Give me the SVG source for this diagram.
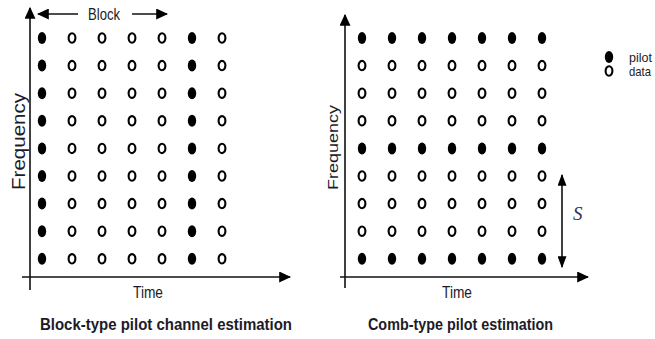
<svg xmlns="http://www.w3.org/2000/svg" width="655" height="339" viewBox="0 0 655 339">
<style>
.t{font-family:"Liberation Sans",Arial,sans-serif;fill:#1c1c28}
.b{font-weight:bold}
.ax{stroke:#111;stroke-width:1.6;fill:none}
.p{fill:#000}
.d{fill:#fff;stroke:#000;stroke-width:2.1}
</style>
<defs>
<marker id="ah" viewBox="0 0 10 10" refX="9" refY="5" markerWidth="12" markerHeight="11" markerUnits="userSpaceOnUse" orient="auto" preserveAspectRatio="none"><path d="M0,0 L10,5 L0,10 z" fill="#000"/></marker>
<marker id="ahs" viewBox="0 0 10 10" refX="9" refY="5" markerWidth="12" markerHeight="9" markerUnits="userSpaceOnUse" orient="auto" preserveAspectRatio="none"><path d="M0,0 L10,5 L0,10 z" fill="#000"/></marker>
<ellipse id="pd" rx="4.2" ry="6" class="p"/>
<ellipse id="dd" rx="3.4" ry="4.7" class="d"/>
</defs>
<g id="connectors">
<line class="ax" x1="30" y1="290" x2="30" y2="8" marker-end="url(#ah)"/>
<line class="ax" x1="22" y1="277" x2="290" y2="277" marker-end="url(#ah)"/>
<line class="ax" x1="78" y1="14" x2="38" y2="14" marker-end="url(#ah)"/>
<line class="ax" x1="132" y1="14" x2="167" y2="14" marker-end="url(#ah)"/>
<line class="ax" x1="345" y1="288" x2="345" y2="15" marker-end="url(#ah)"/>
<line class="ax" x1="340" y1="277" x2="588" y2="277" marker-end="url(#ah)"/>
<line class="ax" x1="562" y1="220" x2="562" y2="175" marker-end="url(#ahs)"/>
<line class="ax" x1="562" y1="220" x2="562" y2="267" marker-end="url(#ahs)"/>
</g>
<g id="block-grid">
<g id="block-col0"><use href="#pd" x="42" y="38"/><use href="#pd" x="42" y="65.6"/><use href="#pd" x="42" y="93.2"/><use href="#pd" x="42" y="120.8"/><use href="#pd" x="42" y="148.4"/><use href="#pd" x="42" y="176"/><use href="#pd" x="42" y="203.6"/><use href="#pd" x="42" y="231.2"/><use href="#pd" x="42" y="258.8"/></g>
<g id="block-col1"><use href="#dd" x="72" y="38"/><use href="#dd" x="72" y="65.6"/><use href="#dd" x="72" y="93.2"/><use href="#dd" x="72" y="120.8"/><use href="#dd" x="72" y="148.4"/><use href="#dd" x="72" y="176"/><use href="#dd" x="72" y="203.6"/><use href="#dd" x="72" y="231.2"/><use href="#dd" x="72" y="258.8"/></g>
<g id="block-col2"><use href="#dd" x="102" y="38"/><use href="#dd" x="102" y="65.6"/><use href="#dd" x="102" y="93.2"/><use href="#dd" x="102" y="120.8"/><use href="#dd" x="102" y="148.4"/><use href="#dd" x="102" y="176"/><use href="#dd" x="102" y="203.6"/><use href="#dd" x="102" y="231.2"/><use href="#dd" x="102" y="258.8"/></g>
<g id="block-col3"><use href="#dd" x="132" y="38"/><use href="#dd" x="132" y="65.6"/><use href="#dd" x="132" y="93.2"/><use href="#dd" x="132" y="120.8"/><use href="#dd" x="132" y="148.4"/><use href="#dd" x="132" y="176"/><use href="#dd" x="132" y="203.6"/><use href="#dd" x="132" y="231.2"/><use href="#dd" x="132" y="258.8"/></g>
<g id="block-col4"><use href="#dd" x="162" y="38"/><use href="#dd" x="162" y="65.6"/><use href="#dd" x="162" y="93.2"/><use href="#dd" x="162" y="120.8"/><use href="#dd" x="162" y="148.4"/><use href="#dd" x="162" y="176"/><use href="#dd" x="162" y="203.6"/><use href="#dd" x="162" y="231.2"/><use href="#dd" x="162" y="258.8"/></g>
<g id="block-col5"><use href="#pd" x="192" y="38"/><use href="#pd" x="192" y="65.6"/><use href="#pd" x="192" y="93.2"/><use href="#pd" x="192" y="120.8"/><use href="#pd" x="192" y="148.4"/><use href="#pd" x="192" y="176"/><use href="#pd" x="192" y="203.6"/><use href="#pd" x="192" y="231.2"/><use href="#pd" x="192" y="258.8"/></g>
<g id="block-col6"><use href="#dd" x="222" y="38"/><use href="#dd" x="222" y="65.6"/><use href="#dd" x="222" y="93.2"/><use href="#dd" x="222" y="120.8"/><use href="#dd" x="222" y="148.4"/><use href="#dd" x="222" y="176"/><use href="#dd" x="222" y="203.6"/><use href="#dd" x="222" y="231.2"/><use href="#dd" x="222" y="258.8"/></g>
</g>
<g id="comb-grid">
<g id="comb-row0"><use href="#pd" x="362" y="38"/><use href="#pd" x="392" y="38"/><use href="#pd" x="422" y="38"/><use href="#pd" x="452" y="38"/><use href="#pd" x="482" y="38"/><use href="#pd" x="512" y="38"/><use href="#pd" x="542" y="38"/></g>
<g id="comb-row1"><use href="#dd" x="362" y="65.6"/><use href="#dd" x="392" y="65.6"/><use href="#dd" x="422" y="65.6"/><use href="#dd" x="452" y="65.6"/><use href="#dd" x="482" y="65.6"/><use href="#dd" x="512" y="65.6"/><use href="#dd" x="542" y="65.6"/></g>
<g id="comb-row2"><use href="#dd" x="362" y="93.2"/><use href="#dd" x="392" y="93.2"/><use href="#dd" x="422" y="93.2"/><use href="#dd" x="452" y="93.2"/><use href="#dd" x="482" y="93.2"/><use href="#dd" x="512" y="93.2"/><use href="#dd" x="542" y="93.2"/></g>
<g id="comb-row3"><use href="#dd" x="362" y="120.8"/><use href="#dd" x="392" y="120.8"/><use href="#dd" x="422" y="120.8"/><use href="#dd" x="452" y="120.8"/><use href="#dd" x="482" y="120.8"/><use href="#dd" x="512" y="120.8"/><use href="#dd" x="542" y="120.8"/></g>
<g id="comb-row4"><use href="#pd" x="362" y="148.4"/><use href="#pd" x="392" y="148.4"/><use href="#pd" x="422" y="148.4"/><use href="#pd" x="452" y="148.4"/><use href="#pd" x="482" y="148.4"/><use href="#pd" x="512" y="148.4"/><use href="#pd" x="542" y="148.4"/></g>
<g id="comb-row5"><use href="#dd" x="362" y="176"/><use href="#dd" x="392" y="176"/><use href="#dd" x="422" y="176"/><use href="#dd" x="452" y="176"/><use href="#dd" x="482" y="176"/><use href="#dd" x="512" y="176"/><use href="#dd" x="542" y="176"/></g>
<g id="comb-row6"><use href="#dd" x="362" y="203.6"/><use href="#dd" x="392" y="203.6"/><use href="#dd" x="422" y="203.6"/><use href="#dd" x="452" y="203.6"/><use href="#dd" x="482" y="203.6"/><use href="#dd" x="512" y="203.6"/><use href="#dd" x="542" y="203.6"/></g>
<g id="comb-row7"><use href="#dd" x="362" y="231.2"/><use href="#dd" x="392" y="231.2"/><use href="#dd" x="422" y="231.2"/><use href="#dd" x="452" y="231.2"/><use href="#dd" x="482" y="231.2"/><use href="#dd" x="512" y="231.2"/><use href="#dd" x="542" y="231.2"/></g>
<g id="comb-row8"><use href="#pd" x="362" y="258.8"/><use href="#pd" x="392" y="258.8"/><use href="#pd" x="422" y="258.8"/><use href="#pd" x="452" y="258.8"/><use href="#pd" x="482" y="258.8"/><use href="#pd" x="512" y="258.8"/><use href="#pd" x="542" y="258.8"/></g>
</g>
<g id="legend">
<use href="#pd" x="609" y="57"/>
<text class="t" x="629" y="62" font-size="13" textLength="23" lengthAdjust="spacingAndGlyphs">pilot</text>
<use href="#dd" x="609" y="71"/>
<text class="t" x="629" y="76" font-size="13" textLength="22" lengthAdjust="spacingAndGlyphs">data</text>
</g>
<g id="labels">
<text class="t" x="88" y="20" font-size="17" textLength="32" lengthAdjust="spacingAndGlyphs">Block</text>
<text class="t" transform="translate(25,190) rotate(-90)" x="0" y="0" font-size="18.5" textLength="97" lengthAdjust="spacingAndGlyphs">Frequency</text>
<text class="t" transform="translate(338,190) rotate(-90)" x="0" y="0" font-size="15.5" textLength="85" lengthAdjust="spacingAndGlyphs">Frequency</text>
<text class="t" x="133" y="298" font-size="16.5" textLength="30" lengthAdjust="spacingAndGlyphs">Time</text>
<text class="t" x="442" y="298" font-size="16.5" textLength="30" lengthAdjust="spacingAndGlyphs">Time</text>
<text class="t b" x="40" y="330" font-size="17" textLength="252" lengthAdjust="spacingAndGlyphs">Block-type pilot channel estimation</text>
<text class="t b" x="368" y="330" font-size="17" textLength="185" lengthAdjust="spacingAndGlyphs">Comb-type pilot estimation</text>
<text x="573" y="220" font-family="Liberation Serif,'Times New Roman',serif" font-style="italic" font-size="19" fill="#2a3556">S</text>
</g>
</svg>
